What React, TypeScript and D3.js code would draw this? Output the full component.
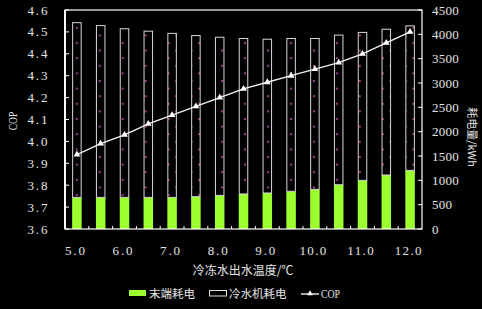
import React from "react";
import * as d3 from "d3";

const temps = ["5.0", "5.5", "6.0", "6.5", "7.0", "7.5", "8.0", "8.5", "9.0", "9.5", "10.0", "10.5", "11.0", "11.5", "12.0"];
const endPower = [650, 650, 650, 650, 650, 665, 690, 720, 740, 775, 815, 910, 1000, 1110, 1205];
const chillerPower = [3600, 3540, 3475, 3425, 3380, 3320, 3260, 3205, 3170, 3150, 3110, 3085, 3050, 3005, 2980];
const cop = [3.94, 3.99, 4.03, 4.08, 4.12, 4.16, 4.2, 4.24, 4.27, 4.3, 4.33, 4.36, 4.4, 4.45, 4.5];
const copTicks = [3.6, 3.7, 3.8, 3.9, 4.0, 4.1, 4.2, 4.3, 4.4, 4.5, 4.6];
const powerTicks = [0, 500, 1000, 1500, 2000, 2500, 3000, 3500, 4000, 4500];
const xLabelTemps = ["5.0", "6.0", "7.0", "8.0", "9.0", "10.0", "11.0", "12.0"];

const W = 482;
const H = 309;
const L = 65, R = 422, T = 10, B = 229;
const TXT = "#e4e4e4";
const GREEN = "#9dff2f";
const DOT = "#a03c86";
const NUM_FONT = "'Liberation Serif', 'DejaVu Serif', serif";
const CJK_FONT = "'Noto Sans CJK SC', 'Noto Sans', sans-serif";
const CH = 6.67; // per-character width of half-width glyphs

export default function App() {
  const x = d3.scaleBand<string>().domain(temps).range([L, R]).paddingInner(0.6).paddingOuter(0.3);
  const yL = d3.scaleLinear().domain([3.6, 4.6]).range([B, T]);
  const yR = d3.scaleLinear().domain([0, 4500]).range([B, T]);
  const bw = x.bandwidth();
  const cx = (t: string) => (x(t) as number) + bw / 2;

  const rows = temps.map((t, i) => ({ t, end: endPower[i], chiller: chillerPower[i] }));
  const series = d3.stack<any>().keys(["end", "chiller"])(rows);

  const line = d3.line<number>().x((_, i) => cx(temps[i])).y((d) => yL(d));
  const tri = d3.symbol().type(d3.symbolTriangle).size(20)() as string;
  const triSmall = d3.symbol().type(d3.symbolTriangle).size(14)() as string;

  const minorTicks = temps.slice(0, -1).map((t, i) => ((x(t) as number) + bw + (x(temps[i + 1]) as number)) / 2);

  const fmtL = d3.format(".1f");

  return (
    <div style={{ position: "absolute", left: 0, top: 0 }}>
      <svg width={W} height={H} style={{ display: "block", background: "#000" }}>
        <defs>
          <pattern id="dots" patternUnits="userSpaceOnUse" width={15.3} height={15.2}
            patternTransform="translate(75.8,26.8)">
            <rect width={15.3} height={15.2} fill="#000" />
            <rect x={0} y={0} width={2} height={2} fill={DOT} />
            <rect x={7.65} y={7.6} width={2} height={2} fill={DOT} />
          </pattern>
        </defs>
        <rect x={0} y={0} width={W} height={H} fill="#000" />

        {/* bars */}
        {series[0].map((d: any, i: number) => (
          <rect key={"g" + i} x={x(temps[i])} y={yR(d[1])} width={bw} height={yR(d[0]) - yR(d[1])} fill={GREEN} />
        ))}
        {series[1].map((d: any, i: number) => (
          <rect key={"c" + i} x={(x(temps[i]) as number) + 0.5} y={yR(d[1]) + 0.5} width={bw - 1} height={yR(d[0]) - yR(d[1]) - 0.5}
            fill="url(#dots)" stroke="#d6d6d6" strokeWidth={1} />
        ))}

        {/* COP line */}
        <path d={line(cop) as string} fill="none" stroke="#f2f2f2" strokeWidth={1.4} />
        {cop.map((v, i) => (
          <path key={"m" + i} d={tri} transform={`translate(${cx(temps[i])},${yL(v)})`} fill="#fff" />
        ))}

        {/* frame */}
        <rect x={L} y={T} width={R - L} height={B - T} fill="none" stroke="#fff" strokeWidth={1.2} />
        <line x1={L} x2={L} y1={T} y2={B} stroke="#fff" strokeWidth={2} />

        {/* left axis ticks */}
        {copTicks.map((v) => (
          <g key={"l" + v}>
            <line x1={L} x2={L + 4} y1={yL(v)} y2={yL(v)} stroke="#fff" strokeWidth={1} />
            <text x={47.5} y={yL(v)} dy="0.35em" textAnchor="end" fill={TXT} fontFamily={NUM_FONT} fontSize={13}
              textLength={CH * 3} lengthAdjust="spacing">{fmtL(v)}</text>
          </g>
        ))}
        {/* right axis ticks */}
        {powerTicks.map((v) => (
          <g key={"r" + v}>
            <line x1={R} x2={R - 4} y1={yR(v)} y2={yR(v)} stroke="#fff" strokeWidth={1} />
            <text x={432} y={yR(v)} dy="0.35em" textAnchor="start" fill={TXT} fontFamily={NUM_FONT} fontSize={13}
              textLength={CH * String(v).length} lengthAdjust="spacing">{v}</text>
          </g>
        ))}
        {/* bottom minor ticks */}
        {minorTicks.map((mx, i) => (
          <line key={"b" + i} x1={mx} x2={mx} y1={B} y2={B - 3} stroke="#fff" strokeWidth={1} />
        ))}
        {xLabelTemps.map((t) => (
          <text key={"x" + t} x={cx(t) - 2} y={255} textAnchor="middle" fill={TXT} fontFamily={NUM_FONT} fontSize={13}
            textLength={CH * t.length} lengthAdjust="spacing">{t}</text>
        ))}

        {/* axis titles */}
        <text x={243} y={275} textAnchor="middle" fill={TXT} fontFamily={CJK_FONT} fontSize={12}>冷冻水出水温度/℃</text>
        <text transform="translate(13,121) rotate(-90)" dy="0.35em" textAnchor="middle" fill={TXT} fontFamily={NUM_FONT}
          fontSize={12} textLength={18.5} lengthAdjust="spacingAndGlyphs">COP</text>
        <text transform="translate(471.5,137) rotate(90)" dy="0.35em" textAnchor="middle" fill={TXT} fontFamily={CJK_FONT}
          fontSize={11}>耗电量/kWh</text>

        {/* legend */}
        <rect x={129} y={290} width={17} height={6} fill={GREEN} />
        <text x={149} y={294} dy="0.35em" fill={TXT} fontFamily={CJK_FONT} fontSize={11.5}>末端耗电</text>
        <rect x={209.5} y={290.5} width={17} height={5.5} fill="#000" stroke="#e0e0e0" strokeWidth={1} />
        <text x={229} y={294} dy="0.35em" fill={TXT} fontFamily={CJK_FONT} fontSize={11.5}>冷水机耗电</text>
        <line x1={301} x2={319} y1={294} y2={294} stroke="#f2f2f2" strokeWidth={1.4} />
        <path d={triSmall} transform="translate(310,293.5)" fill="#fff" />
        <text x={321} y={294} dy="0.35em" fill={TXT} fontFamily={NUM_FONT} fontSize={12} textLength={19}
          lengthAdjust="spacingAndGlyphs">COP</text>
      </svg>
    </div>
  );
}
